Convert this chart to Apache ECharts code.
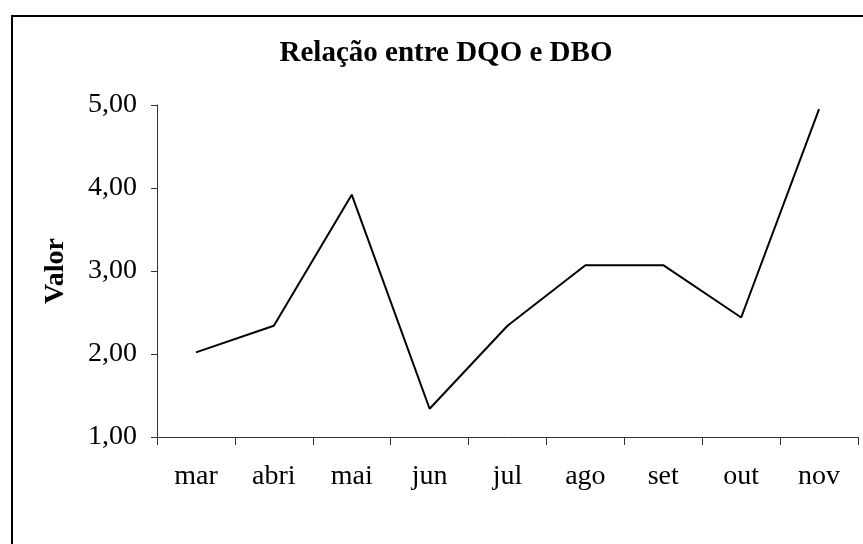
<!DOCTYPE html>
<html lang="pt">
<head>
    <meta charset="UTF-8">
    <title>Relação entre DQO e DBO</title>
    <script src="https://cdn.jsdelivr.net/npm/echarts@6.0.0/dist/echarts.min.js"></script>
    <style>
        html, body { margin: 0; padding: 0; background: #fff; }
        #chart { width: 863px; height: 544px; }
    </style>
</head>
<body>
<div id="chart"></div>
<script>
// dados
const meses = ['mar', 'abri', 'mai', 'jun', 'jul', 'ago', 'set', 'out', 'nov'];
const relacao = [2.02, 2.34, 3.92, 1.34, 2.34, 3.07, 3.07, 2.44, 4.95];
const yMin = 1, yMax = 5, yStep = 1;

const fonte = '"Liberation Serif", "DejaVu Serif", serif';
const chart = echarts.init(document.getElementById('chart'));

chart.setOption({
    animation: false,
    backgroundColor: '#fff',
    title: {
        text: 'Relação entre DQO e DBO',
        left: 441,
        textAlign: 'center',
        top: 34,
        textStyle: { fontFamily: fonte, fontSize: 29, fontWeight: 'bold', color: '#000' }
    },
    // moldura em volta do gráfico
    graphic: [{
        type: 'rect',
        shape: { x: 12, y: 16, width: 900, height: 600 },
        style: { fill: 'none', stroke: '#000', lineWidth: 2 }
    }],
    grid: { left: 157, right: 5, top: 105, bottom: 107 },
    xAxis: {
        type: 'category',
        data: meses,
        boundaryGap: true,
        axisLine: { show: true, lineStyle: { color: '#333', width: 1 } },
        axisTick: { show: true, alignWithLabel: false, interval: 0, length: 8, lineStyle: { color: '#333', width: 1 } },
        axisLabel: { fontFamily: fonte, fontSize: 28, color: '#000', margin: 26 }
    },
    yAxis: {
        type: 'value',
        min: yMin,
        max: yMax,
        interval: yStep,
        name: 'Valor',
        nameLocation: 'middle',
        nameRotate: 90,
        nameGap: 87,
        nameTextStyle: { fontFamily: fonte, fontSize: 28, fontWeight: 'bold', color: '#000' },
        splitLine: { show: false },
        axisLine: { show: true, lineStyle: { color: '#333', width: 1 } },
        axisTick: { show: true, length: 6, lineStyle: { color: '#333' } },
        axisLabel: {
            fontFamily: fonte, fontSize: 28, color: '#000', margin: 20,
            formatter: v => v.toFixed(2).replace('.', ',')
        }
    },
    series: [{
        type: 'line',
        data: relacao,
        symbol: 'none',
        lineStyle: { color: '#000', width: 2 }
    }]
});
</script>
</body>
</html>
